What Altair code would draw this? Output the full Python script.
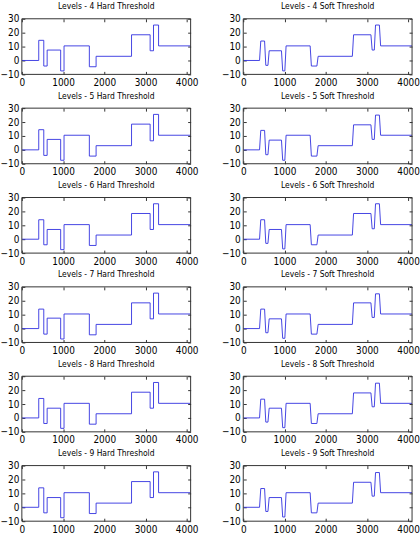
import altair as alt
import pandas as pd

# Shared edge positions (samples) of the piecewise-constant "blocks" signal
EDGES = [410, 532, 614, 942, 1024, 1638, 1802, 2662, 3113, 3195, 3318]
X_END = 4096

# Reconstructed plateau levels per panel
hard_4 = [0, 14.5, -4, 7.5, -7.5, 10.5, -4.5, 3, 18.5, 7, 25.5, 10.5]
soft_4 = [0, 14, -3.5, 7, -7.5, 10.5, -4, 3, 18.5, 7.5, 25.5, 10.5]
hard_5 = [0, 14.5, -4, 7.5, -7.5, 10.5, -4.5, 3, 18.5, 6.5, 25.5, 10.5]
soft_5 = [0, 14, -3.5, 7, -7.5, 10.5, -4.5, 3, 18, 7.5, 25, 10.5]
hard_6 = [0, 14, -4, 7, -7.5, 10.5, -4.5, 3, 18.5, 7, 25.5, 10.5]
soft_6 = [0, 14, -3, 7, -7, 10.5, -4, 3, 18.5, 7.5, 25.5, 10.5]
hard_7 = [0, 14, -4, 7.5, -7.5, 10.5, -4.5, 3, 18.5, 7, 25.5, 10.5]
soft_7 = [0, 14, -3, 7, -7, 10.5, -4, 3, 18.5, 8, 25, 10.5]
hard_8 = [0, 14, -4, 7, -7.5, 10.5, -4.5, 3, 18.5, 7, 25.5, 10.5]
soft_8 = [0, 13.5, -3, 7, -7, 10.5, -4, 3, 18, 8, 25, 10.5]
hard_9 = [0, 14, -4, 7, -7.5, 10.5, -4.5, 3, 18.5, 7, 25.5, 10.5]
soft_9 = [0, 13.5, -3, 7, -7, 10.5, -4, 3, 18, 8, 25, 10.5]

PANELS = [
    (4, "Hard", hard_4), (4, "Soft", soft_4),
    (5, "Hard", hard_5), (5, "Soft", soft_5),
    (6, "Hard", hard_6), (6, "Soft", soft_6),
    (7, "Hard", hard_7), (7, "Soft", soft_7),
    (8, "Hard", hard_8), (8, "Soft", soft_8),
    (9, "Hard", hard_9), (9, "Soft", soft_9),
]

X_TICKS = [0, 1000, 2000, 3000, 4000]
Y_TICKS = [-10, 0, 10, 20, 30]
X_DOMAIN = [0, X_END]
Y_DOMAIN = [-10, 30]

FONT = "DejaVu Sans Condensed"
LINE_COLOR = "#3030e0"
FRAME_COLOR = "#333333"
RAMP = 15  # soft threshold transitions are slightly rounded


def build(levels, kind):
    xs, ys = [0], [levels[0]]
    for i, e in enumerate(EDGES):
        if kind == "Hard":
            xs += [e, e]
        else:
            xs += [e - RAMP, e + RAMP]
        ys += [levels[i], levels[i + 1]]
    xs.append(X_END)
    ys.append(levels[-1])
    return pd.DataFrame({"i": range(len(xs)), "x": xs, "y": ys})


def panel(level, kind, levels):
    df = build(levels, kind)
    xscale = alt.Scale(domain=X_DOMAIN, nice=False, zero=False)
    yscale = alt.Scale(domain=Y_DOMAIN, nice=False, zero=False)
    main = alt.Chart(df).mark_line(color=LINE_COLOR, strokeWidth=0.9, clip=True).encode(
        x=alt.X("x:Q", scale=xscale, title=None,
                axis=alt.Axis(values=X_TICKS, format="d", offset=-3, tickSize=3,
                              domain=False, grid=False, labelPadding=3, labelFont=FONT,
                              labelFontSize=10, labelColor="#000", tickColor=FRAME_COLOR,
                              labelFlush=False)),
        y=alt.Y("y:Q", scale=yscale, title=None,
                axis=alt.Axis(values=Y_TICKS, format="d", offset=-3, tickSize=3,
                              domain=False, grid=False, labelPadding=3, labelFont=FONT,
                              labelFontSize=10, labelColor="#000", tickColor=FRAME_COLOR,
                              labelFlush=False)),
        order="i:Q",
    )
    mirror = alt.Chart(df).mark_line(opacity=0).encode(
        x=alt.X("x:Q", scale=xscale, title=None,
                axis=alt.Axis(orient="top", values=X_TICKS, offset=-3, tickSize=3,
                              domain=False, grid=False, labels=False, tickColor=FRAME_COLOR)),
        y=alt.Y("y:Q", scale=yscale, title=None,
                axis=alt.Axis(orient="right", values=Y_TICKS, offset=-3, tickSize=3,
                              domain=False, grid=False, labels=False, tickColor=FRAME_COLOR)),
        order="i:Q",
    )
    # axes box (one rect, drawn through the scales at the domain limits)
    frame = alt.Chart(pd.DataFrame({"k": [0]})).mark_rect(
        fillOpacity=0, stroke=FRAME_COLOR, strokeWidth=1
    ).encode(
        x=alt.X(datum=X_DOMAIN[0], scale=xscale, axis=None),
        x2=alt.X2(datum=X_DOMAIN[1]),
        y=alt.Y(datum=Y_DOMAIN[0], scale=yscale, axis=None),
        y2=alt.Y2(datum=Y_DOMAIN[1]),
    )
    return alt.layer(main, mirror, frame).resolve_axis(x="independent", y="independent").properties(
        width=170, height=56,
        title=alt.TitleParams(f"Levels - {level}  {kind} Threshold", font=FONT,
                              fontSize=8.5, fontWeight="normal", color="#000", offset=3),
    )


chart = alt.concat(
    *[panel(*p) for p in PANELS],
    columns=2,
    spacing={"row": 34, "column": 53},
    bounds="flush",
).properties(
    padding={"left": 0, "top": 0, "right": 0, "bottom": 0},
    background="white",
).configure_view(strokeWidth=0)

chart.save("out.html", embed_options={"renderer": "svg", "actions": False})
